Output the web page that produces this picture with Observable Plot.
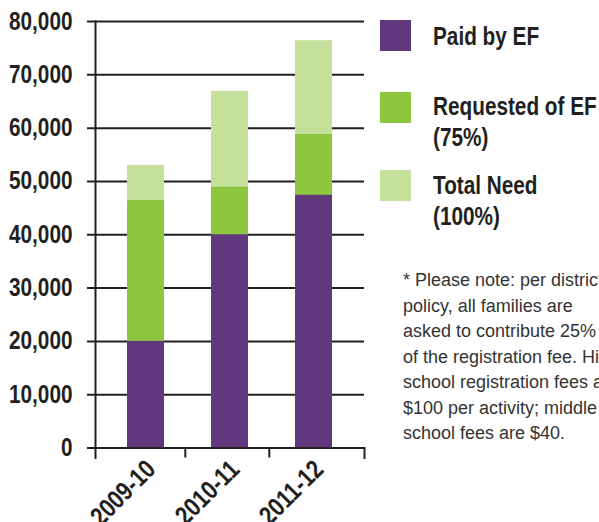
<!DOCTYPE html>
<html><head><meta charset="utf-8">
<script src="https://cdn.jsdelivr.net/npm/d3@7"></script>
<script src="https://cdn.jsdelivr.net/npm/@observablehq/plot@0.6"></script>
<style>
body{margin:0;background:#fff;}
#wrap{position:relative;width:599px;height:522px;overflow:hidden;font-family:"Liberation Sans",Arial,sans-serif;color:#231f20;}
#chart{position:absolute;left:0;top:0;}
.sw{position:absolute;left:380px;width:31px;height:31px;}
.lg{position:absolute;left:433px;font-weight:bold;font-size:25px;line-height:31px;white-space:nowrap;}
.lg span{display:block;transform:scaleX(0.83);transform-origin:0 50%;}
#note{position:absolute;left:403px;top:268px;font-size:18px;line-height:25.5px;white-space:pre;color:#333;}
svg text{font-family:"Liberation Sans",Arial,sans-serif;}
</style></head><body><div id="wrap"><div id="chart"></div></div>
<script>
const years = ["2009-10", "2010-11", "2011-12"];
const paidByEF = [20000, 40000, 47400];
const requestedOfEF = [46400, 48900, 58800];
const totalNeed = [53000, 66900, 76400];
const yTicks = [0, 10000, 20000, 30000, 40000, 50000, 60000, 70000, 80000];
const seriesKeys = ["Paid by EF", "Requested of EF", "Total Need"];
const seriesLabels = [["Paid by EF"], ["Requested of EF", "(75%)"], ["Total Need", "(100%)"]];
const seriesColors = ["#61377d", "#8dc63f", "#c5e09b"];
const noteLines = [
  "* Please note: per district",
  "policy, all families are",
  "asked to contribute 25%",
  "of the registration fee. High",
  "school registration fees are",
  "$100 per activity; middle",
  "school fees are $40."
];

const W = 599, H = 522, mL = 95, mR = 235, mT = 21, mB = 74.5;
const pInner = 0.56, pOuter = 0.37;
const step = (W - mL - mR) / (years.length - pInner + 2 * pOuter);
const ink = "#231f20";
const condense = 0.83;

const rows = [];
years.forEach((yr, i) => {
  rows.push({year: yr, series: "Total Need", v: totalNeed[i]});
  rows.push({year: yr, series: "Requested of EF", v: requestedOfEF[i]});
  rows.push({year: yr, series: "Paid by EF", v: paidByEF[i]});
});

const plot = Plot.plot({
  width: W, height: H,
  marginLeft: mL, marginRight: mR, marginTop: mT, marginBottom: mB,
  x: {domain: years, paddingInner: pInner, paddingOuter: pOuter, label: null},
  y: {domain: [0, 80000], label: null},
  color: {domain: seriesKeys, range: seriesColors},
  marks: [
    Plot.ruleY(yTicks.filter(d => d > 0), {stroke: ink, strokeWidth: 2, insetLeft: -8}),
    Plot.barY(rows, {x: "year", y1: 0, y2: "v", fill: "series"}),
    Plot.ruleY([0], {stroke: ink, strokeWidth: 2, insetLeft: -8}),
    Plot.frame({anchor: "left", stroke: ink, strokeWidth: 2, insetBottom: -10}),
    Plot.ruleX(years.slice(0, -1), {x: d => d, y1: 0, y2: 0, insetBottom: -10, dx: step / 2 - 3, stroke: ink, strokeWidth: 2}),
    Plot.frame({anchor: "right", stroke: ink, strokeWidth: 2, insetTop: H - mT - mB, insetBottom: -10}),
    Plot.axisY({ticks: yTicks, tickSize: 0, tickPadding: 23, tickFormat: d3.format(","), fontSize: 25, fontWeight: "bold", fill: ink}),
    Plot.axisX({tickSize: 0, tickRotate: -45, tickPadding: 17, dx: 5, fontSize: 26, fontWeight: "bold", fill: ink})
  ]
});
document.getElementById("chart").appendChild(plot);
plot.querySelectorAll("text").forEach(t => {
  const L = t.getComputedTextLength();
  if (L > 0) {
    t.setAttribute("textLength", (L * condense).toFixed(1));
    t.setAttribute("lengthAdjust", "spacingAndGlyphs");
  }
});

const wrap = document.getElementById("wrap");
const swTops = [20, 92, 170];
const lgTops = [21, 91, 170];
seriesLabels.forEach((lines, i) => {
  const sw = document.createElement("div");
  sw.className = "sw";
  sw.style.top = swTops[i] + "px";
  sw.style.background = seriesColors[i];
  wrap.appendChild(sw);
  const t = document.createElement("div");
  t.className = "lg";
  t.style.top = lgTops[i] + "px";
  lines.forEach(l => {
    const s = document.createElement("span");
    s.textContent = l;
    t.appendChild(s);
  });
  wrap.appendChild(t);
});
const note = document.createElement("div");
note.id = "note";
note.textContent = noteLines.join("\n");
wrap.appendChild(note);
</script></body></html>
